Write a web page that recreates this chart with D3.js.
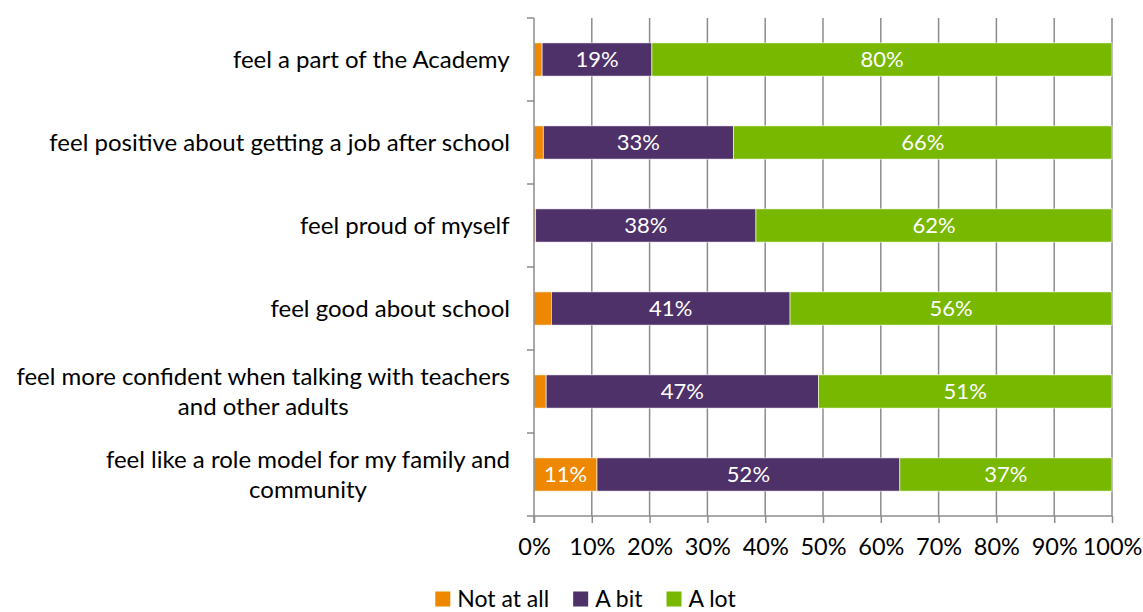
<!DOCTYPE html>
<html>
<head>
<meta charset="utf-8">
<title>Academy survey</title>
<script src="https://d3js.org/d3.v7.min.js"></script>
<style>
  body { margin: 0; background: #fff; }
  text { font-family: Lato, "Open Sans", sans-serif; }
</style>
</head>
<body>
<div id="chart"></div>
<script>

// data (percent of students)
const categories = [
  "feel a part of the Academy",
  "feel positive about getting a job after school",
  "feel proud of myself",
  "feel good about school",
  "feel more confident when talking with teachers\nand other adults",
  "feel like a role model for my family and\ncommunity"
];
const notAtAll = [1.4, 1.6, 0.3, 3.0, 2.1, 10.9];
const aBit     = [19.0, 32.9, 38.1, 41.3, 47.1, 52.4];
const aLot     = [79.6, 65.5, 61.6, 55.7, 50.8, 36.7];

const seriesNames = ["Not at all", "A bit", "A lot"];
const colors = ["#ED8800", "#4E3169", "#78B800"];
const xTicks = [0, 10, 20, 30, 40, 50, 60, 70, 80, 90, 100];

const W = 1143, H = 612;
const plotL = 534, plotR = 1112, plotT = 18, plotB = 516;

const rows = categories.map((c, i) => ({
  cat: c, "Not at all": notAtAll[i], "A bit": aBit[i], "A lot": aLot[i]
}));

const svg = d3.select("#chart").append("svg")
  .attr("width", W).attr("height", H);

const x = d3.scaleLinear().domain([0, 100]).range([plotL, plotR]);
const y = d3.scaleBand().domain(categories).range([plotT, plotB])
  .paddingInner(0.6).paddingOuter(0.3);

// gridlines
svg.append("g")
  .selectAll("line")
  .data(xTicks.slice(1))
  .join("line")
    .attr("x1", d => x(d)).attr("x2", d => x(d))
    .attr("y1", plotT).attr("y2", plotB)
    .attr("stroke", "#8c8c8c").attr("stroke-width", 1.5);

// bars
const stacked = d3.stack().keys(seriesNames)(rows);
const layer = svg.append("g").selectAll("g")
  .data(stacked)
  .join("g")
    .attr("fill", (d, i) => colors[i]);

layer.selectAll("rect")
  .data(d => d)
  .join("rect")
    .attr("x", d => x(d[0]))
    .attr("y", d => y(d.data.cat))
    .attr("width", d => x(d[1]) - x(d[0]))
    .attr("height", y.bandwidth())
    .attr("stroke", "#fff").attr("stroke-width", 0.6);

// value labels
layer.selectAll("text")
  .data(d => d.filter(v => v[1] - v[0] >= 5))
  .join("text")
    .attr("x", d => (x(d[0]) + x(d[1])) / 2)
    .attr("y", d => y(d.data.cat) + y.bandwidth() / 2)
    .attr("dy", "0.36em")
    .attr("text-anchor", "middle")
    .attr("fill", "#fff")
    .attr("font-size", 22)
    .text(d => Math.round(d[1] - d[0]) + "%");

// axes
const axisColor = "#8c8c8c";
const xAxis = svg.append("g")
  .attr("transform", `translate(0,${plotB})`)
  .call(d3.axisBottom(x).tickValues(xTicks).tickSize(7).tickPadding(15)
    .tickFormat(d => d + "%"));
xAxis.select(".domain").attr("stroke", axisColor).attr("stroke-width", 1.5)
  .attr("d", `M${plotL},0H${plotR}`);
xAxis.selectAll(".tick line").attr("stroke", axisColor).attr("stroke-width", 1.5);
xAxis.selectAll(".tick text").attr("font-size", 23.5).attr("fill", "#000")
  .attr("font-family", "Lato, sans-serif");

// left axis line and band ticks
svg.append("line")
  .attr("x1", plotL).attr("x2", plotL).attr("y1", plotT).attr("y2", plotB + 7)
  .attr("stroke", axisColor).attr("stroke-width", 1.5);
svg.append("g").selectAll("line")
  .data(d3.range(categories.length + 1))
  .join("line")
    .attr("x1", plotL - 7).attr("x2", plotL)
    .attr("y1", i => plotT + i * y.step()).attr("y2", i => plotT + i * y.step())
    .attr("stroke", axisColor).attr("stroke-width", 1.5);

// category labels (wrapped lines centred on each other, block right-aligned)
const lineH = 30;
categories.forEach(c => {
  const lines = c.split("\n");
  const cy = y(c) + y.bandwidth() / 2;
  const t = svg.append("text")
    .attr("font-size", 24)
    .attr("fill", "#000")
    .attr("text-anchor", "middle");
  lines.forEach((ln, j) => {
    t.append("tspan")
      .attr("x", 0)
      .attr("y", cy + (j - (lines.length - 1) / 2) * lineH)
      .attr("dy", "0.36em")
      .text(ln);
  });
  const w = t.node().getBBox().width;
  t.selectAll("tspan").attr("x", 510 - w / 2);
});

// legend
const legend = svg.append("g");
let lx = 0;
seriesNames.forEach((s, i) => {
  const g = legend.append("g").attr("transform", `translate(${lx},0)`);
  g.append("rect").attr("x", 0).attr("y", -7.5).attr("width", 15).attr("height", 15)
    .attr("fill", colors[i]);
  const t = g.append("text").attr("x", 22).attr("dy", "0.36em")
    .attr("font-size", 23).attr("fill", "#000").text(s);
  lx += 22 + t.node().getComputedTextLength() + 24;
});
const lw = lx - 24;
legend.attr("transform", `translate(${585.5 - lw / 2},599)`);

</script>
</body>
</html>
